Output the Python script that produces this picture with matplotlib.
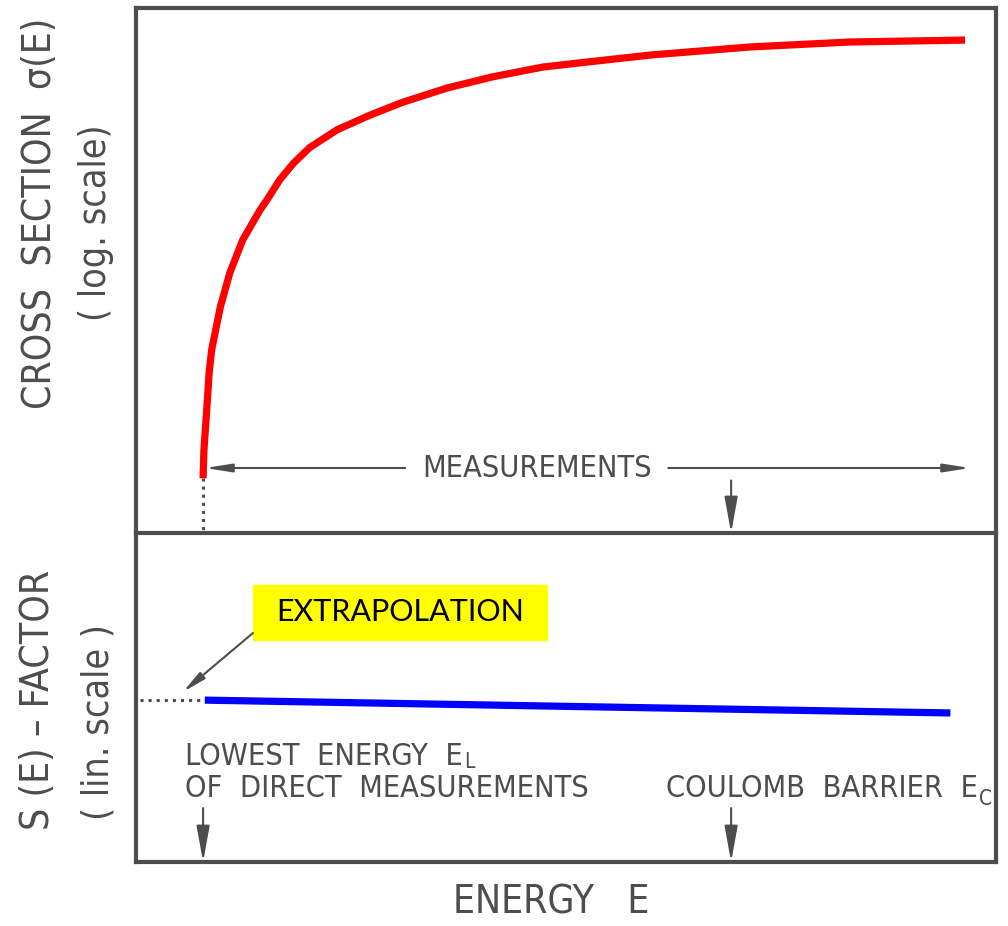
import matplotlib.pyplot as plt
from matplotlib.patches import Rectangle

plt.rcParams['font.family'] = ['DejaVu Sans']

# energy axis in arbitrary units (0 .. 10)
e_low = 0.78     # lowest energy of direct measurements E_L
e_coul = 6.92    # Coulomb barrier E_C

# cross section sigma(E), upper panel (log scale)
sigma_E = [0.78, 0.79, 0.83, 0.85, 0.88, 0.98, 1.09, 1.24, 1.44, 1.53,
           1.67, 1.83, 2.02, 2.34, 2.72, 3.10, 3.62, 4.15, 4.73, 5.13,
           5.98, 7.14, 8.30, 9.64]
sigma = [1.1e-9, 3.8e-9, 3.4e-8, 1.1e-7, 3.1e-7, 2.0e-6, 8.9e-6, 3.8e-5,
         1.4e-4, 2.3e-4, 5.3e-4, 1.1e-3, 2.2e-3, 4.8e-3, 9.1e-3, 1.6e-2,
         3.0e-2, 4.9e-2, 7.5e-2, 8.9e-2, 0.127, 0.181, 0.225, 0.245]

# S-factor, lower panel (linear scale)
s_E = [0.80, 9.47]
s_val = [0.492, 0.453]
extrap_E = [0.05, 0.74]
extrap_S = [0.492, 0.492]

gray = '#4d4d4d'
txt = dict(color=gray, fontstretch='condensed')

fig = plt.figure(figsize=(10.08, 9.26), dpi=100)
ax1 = fig.add_axes([136/1008, 393/926, 860/1008, 525/926])
ax2 = fig.add_axes([136/1008, 64/926, 860/1008, 329/926], sharex=ax1)
ax2.patch.set_visible(False)

for ax in (ax1, ax2):
    for s in ax.spines.values():
        s.set_linewidth(3)
        s.set_color(gray)
    ax.tick_params(which='both', left=False, bottom=False,
                   labelleft=False, labelbottom=False)
ax2.spines['top'].set_visible(False)

ax1.set_xlim(0, 10)
ax1.set_yscale('log')
ax1.set_ylim(1e-10, 1)
ax2.set_ylim(0, 1)

# --- upper panel ---
ax1.plot(sigma_E, sigma, color='#ff0000', lw=5.2, solid_capstyle='butt',
         solid_joinstyle='round')
ax1.plot([e_low, e_low], [sigma[0], 1e-10], ':', color=gray, lw=2.2)

y_meas = 1.73e-9
head = dict(color=gray, lw=1.5, shrinkA=0, shrinkB=0)
ax1.annotate('', xy=(0.80, y_meas), xytext=(3.13, y_meas),
             arrowprops=dict(arrowstyle='-|>,head_length=1.6,head_width=0.25', **head))
ax1.annotate('', xy=(9.70, y_meas), xytext=(6.19, y_meas),
             arrowprops=dict(arrowstyle='-|>,head_length=1.6,head_width=0.25', **head))
ax1.text(4.66, y_meas, 'MEASUREMENTS', ha='center', va='center', fontsize=22, **txt)
ax1.annotate('', xy=(e_coul, 1e-10), xytext=(e_coul, 1.0e-9),
             arrowprops=dict(arrowstyle='-|>,head_length=2.2,head_width=0.4', **head))

# --- lower panel ---
ax2.plot(s_E, s_val, color='#0000ff', lw=5.2, solid_capstyle='butt')
ax2.plot(extrap_E, extrap_S, ':', color=gray, lw=2.2)

ax2.add_patch(Rectangle((1.36, 0.675), 3.42, 0.167, color='#ffff00', zorder=3))
ax2.text(3.07, 0.76, 'EXTRAPOLATION', ha='center', va='center', fontsize=22,
         family='Lato', color='black', zorder=4)
ax2.annotate('', xy=(0.547, 0.517), xytext=(1.36, 0.696),
             arrowprops=dict(arrowstyle='-|>,head_length=1.4,head_width=0.25', **head))

t_low = ax2.text(0.57, 0.322, 'LOWEST  ENERGY  E', ha='left', va='center',
                 fontsize=22, **txt)
ax2.annotate('L', xy=(1, 0), xycoords=t_low, xytext=(1, -1),
             textcoords='offset points', ha='left', va='bottom', fontsize=15, **txt)
ax2.text(0.57, 0.222, 'OF  DIRECT  MEASUREMENTS', ha='left', va='center',
         fontsize=22, **txt)
t_c = ax2.text(6.16, 0.222, 'COULOMB  BARRIER  E', ha='left', va='center',
               fontsize=22, **txt)
ax2.annotate('C', xy=(1, 0), xycoords=t_c, xytext=(1, -4),
             textcoords='offset points', ha='left', va='bottom', fontsize=15, **txt)
for x in (e_low, e_coul):
    ax2.annotate('', xy=(x, 0), xytext=(x, 0.164),
                 arrowprops=dict(arrowstyle='-|>,head_length=2.2,head_width=0.4', **head))

# axis labels
fig.text(40/1008, 1 - 213/926, 'CROSS  SECTION  σ(E)', rotation=90,
         ha='center', va='center', fontsize=28, **txt)
fig.text(96/1008, 1 - 223/926, '( log. scale)', rotation=90,
         ha='center', va='center', fontsize=27, **txt)
fig.text(38/1008, 1 - 700/926, 'S (E) – FACTOR', rotation=90,
         ha='center', va='center', fontsize=28, **txt)
fig.text(98/1008, 1 - 722/926, '( lin. scale )', rotation=90,
         ha='center', va='center', fontsize=27, **txt)
fig.text(551/1008, 1 - 902/926, 'ENERGY   E', ha='center', va='center',
         fontsize=28, **txt)

fig.savefig('out.png', dpi=100, facecolor='white')
